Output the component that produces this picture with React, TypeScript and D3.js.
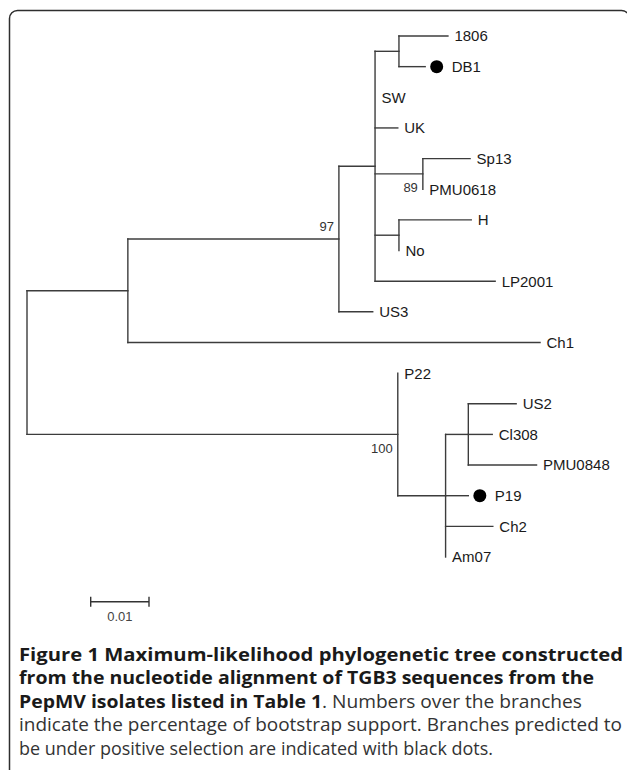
import React from "react";
import * as d3 from "d3";

// ---- Tree data (parent/child table with branch lengths, substitutions/site) ----
const nodeIds = [
  "root", "A", "N97", "SWc", "N1806", "1806", "DB1", "SW", "UK", "N89", "Sp13", "PMU0618",
  "NH", "H", "No", "LP2001", "US3", "Ch1", "N100", "P22", "NB", "NU", "US2", "Cl308",
  "PMU0848", "P19", "Ch2", "Am07",
];
const parentIds = [
  null, "root", "A", "N97", "SWc", "N1806", "N1806", "SWc", "SWc", "SWc", "N89", "N89",
  "SWc", "NH", "NH", "SWc", "N97", "A", "root", "N100", "N100", "NB", "NU", "NU",
  "NU", "NB", "NB", "NB",
];
const branchLengths = [
  0, 0.0173, 0.0362, 0.0062, 0.0041, 0.0084, 0.0045, 0, 0.0039, 0.0082, 0.0081, 0,
  0.0041, 0.0124, 0, 0.0206, 0.0058, 0.0707, 0.0636, 0, 0.0082, 0.0039, 0.0082, 0.0041,
  0.0117, 0.0039, 0.0081, 0,
];
// branches under positive selection (black dots)
const selectedLeaves = ["DB1", "P19"];
// bootstrap support values
const bootstrapNodes = ["N97", "N89", "N100"];
const bootstrapValues = [97, 89, 100];
const bootstrapSides = ["above", "below", "below"];
// scale bar
const scaleBarValue = 0.01;
const scaleBarLabel = "0.01";

// caption
const captionLines: { text: string; bold: boolean; width: number }[][] = [
  [{ text: "Figure 1 Maximum-likelihood phylogenetic tree constructed", bold: true, width: 604 }],
  [{ text: "from the nucleotide alignment of TGB3 sequences from the", bold: true, width: 575 }],
  [
    { text: "PepMV isolates listed in Table 1", bold: true, width: 303 },
    { text: ". Numbers over the branches", bold: false, width: 260 },
  ],
  [{ text: "indicate the percentage of bootstrap support. Branches predicted to", bold: false, width: 603 }],
  [{ text: "be under positive selection are indicated with black dots.", bold: false, width: 474 }],
];

const W = 627;
const H = 770;
const PX_PER_UNIT = 5830;
const TREE_LEFT = 27;

type TNode = d3.HierarchyNode<{ id: string; parentId: string | null; len: number }> & {
  dist?: number;
  px?: number;
  py?: number;
};

export default function App() {
  const rows = nodeIds.map((id, i) => ({ id, parentId: parentIds[i], len: branchLengths[i] }));
  const root = d3
    .stratify<{ id: string; parentId: string | null; len: number }>()
    .id((d) => d.id)
    .parentId((d) => d.parentId)(rows) as TNode;

  root.eachBefore((n: TNode) => {
    n.dist = n.parent ? (n.parent as TNode).dist! + n.data.len : 0;
  });
  const maxDist = d3.max(root.descendants(), (n: TNode) => n.dist!) as number;
  const x = d3.scaleLinear().domain([0, maxDist]).range([TREE_LEFT, TREE_LEFT + maxDist * PX_PER_UNIT]);

  const leaves = root.leaves() as TNode[];
  const y = d3.scaleLinear().domain([0, leaves.length - 1]).range([36, 557]);
  leaves.forEach((l, i) => {
    l.py = y(i);
  });
  root.eachAfter((n: TNode) => {
    n.px = x(n.dist!);
    if (n.children && n.children.length) {
      const f = n.children[0] as TNode;
      const l = n.children[n.children.length - 1] as TNode;
      n.py = (f.py! + l.py!) / 2;
    }
  });

  const nodes = root.descendants() as TNode[];
  const lineColor = "#3c3c3c";
  const labelFont = "'Liberation Sans', Arial, sans-serif";

  const segs: { x1: number; y1: number; x2: number; y2: number; k: string }[] = [];
  nodes.forEach((n) => {
    if (n.parent && n.data.len > 0) {
      const p = n.parent as TNode;
      segs.push({ x1: p.px!, y1: n.py!, x2: n.px!, y2: n.py!, k: "h" + n.data.id });
    }
    if (n.children && n.children.length) {
      const f = n.children[0] as TNode;
      const l = n.children[n.children.length - 1] as TNode;
      segs.push({ x1: n.px!, y1: f.py!, x2: n.px!, y2: l.py!, k: "v" + n.data.id });
    }
  });

  const sbX0 = 90.7;
  const sbX1 = sbX0 + (x(scaleBarValue) - x(0));
  const sbY = 601.7;

  const capY = d3.scaleLinear().domain([0, captionLines.length - 1]).range([660.5, 754.5]);

  return (
    <svg
      width={W}
      height={H}
      viewBox={`0 0 ${W} ${H}`}
      style={{ position: "absolute", left: 0, top: 0, background: "#fff" }}
    >
      <rect x={9.5} y={10.5} width={620} height={800} rx={8} fill="none" stroke="#2e2e2e" strokeWidth={1.5} />

      <g stroke={lineColor} strokeWidth={1.4} fill="none">
        {segs.map((s) => (
          <line key={s.k} x1={s.x1} y1={s.y1} x2={s.x2} y2={s.y2} strokeLinecap="square" />
        ))}
      </g>

      {leaves.map((l) => {
        const sel = selectedLeaves.includes(l.data.id);
        return (
          <g key={l.data.id}>
            {sel && <circle cx={l.px! + 11.5} cy={l.py!} r={6.5} fill="#000" />}
            <text
              x={l.px! + (sel ? 26.5 : 6.5)}
              y={l.py!}
              dy="0.36em"
              fontFamily={labelFont}
              fontSize={15}
              fill="#1a1a1a"
            >
              {l.data.id}
            </text>
          </g>
        );
      })}

      {bootstrapNodes.map((id, i) => {
        const n = nodes.find((d) => d.data.id === id)!;
        const above = bootstrapSides[i] === "above";
        return (
          <text
            key={id}
            x={n.px! - 5}
            y={above ? n.py! - 8 : n.py! + 18.5}
            textAnchor="end"
            fontFamily={labelFont}
            fontSize={13}
            fill="#333"
          >
            {bootstrapValues[i]}
          </text>
        );
      })}

      <g stroke="#333" strokeWidth={1.4}>
        <line x1={sbX0} y1={sbY} x2={sbX1} y2={sbY} />
        <line x1={sbX0} y1={sbY - 5} x2={sbX0} y2={sbY + 5} />
        <line x1={sbX1} y1={sbY - 5} x2={sbX1} y2={sbY + 5} />
      </g>
      <text
        x={(sbX0 + sbX1) / 2}
        y={620.5}
        textAnchor="middle"
        fontFamily={labelFont}
        fontSize={13}
        fill="#444"
      >
        {scaleBarLabel}
      </text>

      {captionLines.map((line, i) => {
        let cx = 19;
        return (
          <g key={i}>
            {line.map((seg, j) => {
              const el = (
                <text
                  key={j}
                  x={cx}
                  y={capY(i)}
                  fontFamily="'Open Sans', 'Noto Sans', sans-serif"
                  fontWeight={seg.bold ? 700 : 400}
                  fontSize={17.5}
                  fill={seg.bold ? "#1a1a1a" : "#333"}
                  textLength={seg.width}
                  lengthAdjust="spacingAndGlyphs"
                >
                  {seg.text}
                </text>
              );
              cx += seg.width;
              return el;
            })}
          </g>
        );
      })}
    </svg>
  );
}
